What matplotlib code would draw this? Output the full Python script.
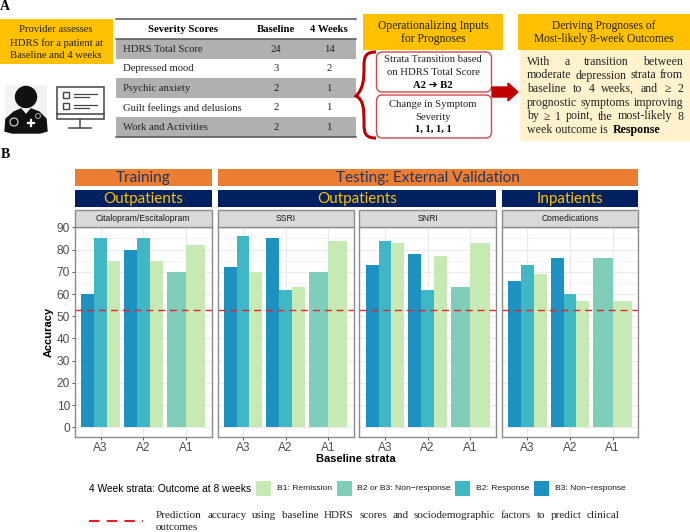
"""Two-part figure: prognosis workflow (A) and accuracy bars by baseline strata (B)."""

import matplotlib

matplotlib.use("Agg")
import matplotlib.pyplot as plt
import numpy as np
from matplotlib.patches import Circle, FancyBboxPatch, PathPatch, Polygon, Rectangle
from matplotlib.path import Path

W, H = 690, 532
SERIF = ["Liberation Serif", "DejaVu Serif", "DejaVu Sans"]
SANS = "Liberation Sans"

# chart data
panels = ["Citalopram/Escitalopram", "SSRI", "SNRI", "Comedications"]
strata = ["A3", "A2", "A1"]
b3_nonresponse = [[60, 80], [72, 85], [73, 78], [66, 76]]
b2_response = [[85, 85], [86, 62], [84, 62], [73, 60]]
b1_remission = [[75, 75, 82], [70, 63, 84], [83, 77, 83], [69, 57, 57]]
b2b3_nonresponse = [70, 70, 63, 76]
reference_accuracy = 53
y_ticks = list(range(0, 100, 10))

# table data
table_header = ["Severity Scores", "Baseline", "4 Weeks"]
table_rows = ["HDRS Total Score", "Depressed mood", "Psychic anxiety",
              "Guilt feelings and delusions", "Work and Activities"]
table_baseline = [24, 3, 2, 2, 2]
table_week4 = [14, 2, 1, 1, 1]

legend_labels = ["B1: Remission", "B2 or B3: Non\u2212response", "B2: Response", "B3: Non\u2212response"]

C_B3, C_B2, C_B23, C_B1 = "#1d91c0", "#41b6c4", "#7fcdbb", "#c7e9b4"
GOLD, ORANGE, NAVY, DARKRED = "#ffc000", "#ed7d31", "#002060", "#c00000"

fig = plt.figure(figsize=(W / 100, H / 100), dpi=100)

# overlay in pixel coordinates for everything that is not a plot panel
bg = fig.add_axes([0, 0, 1, 1], zorder=3)
bg.set_xlim(0, W)
bg.set_ylim(H, 0)
bg.axis("off")
bg.patch.set_alpha(0)


def rect(x0, y0, x1, y1, color, **kw):
    bg.add_patch(Rectangle((x0, y0), x1 - x0, y1 - y0, facecolor=color, edgecolor="none", **kw))


def txt(x, y, s, size=8, family=SERIF, ha="center", color="#222222", weight="normal", **kw):
    return bg.text(x, y, s, fontsize=size, family=family, ha=ha, va="center",
                   color=color, weight=weight, **kw)


def justified(x0, x1, y, line, size):
    """Spread the words of a line evenly between x0 and x1."""
    words = line.split()
    r = fig.canvas.get_renderer()
    items = [txt(x0, y, w, size=size, ha="left") for w in words]
    widths = [t.get_window_extent(r).width for t in items]
    gap = (x1 - x0 - sum(widths)) / (len(words) - 1)
    x = x0
    for t, w in zip(items, widths):
        t.set_x(x)
        x += w + gap


# panel letters
txt(5, 6, "A", size=10, weight="bold", color="black")
txt(5, 154, "B", size=10, weight="bold", color="black")

# provider box
rect(0, 19, 113, 64, GOLD)
for y, s in zip([30, 43, 55], ["Provider assesses", "HDRS for a patient at", "Baseline and 4 weeks"]):
    txt(56, y, s, size=7.65)

# doctor icon
rect(5, 85, 47, 133, "#f3f3f3")
bg.add_patch(Circle((26, 97), 10.5, color="#111111"))
bg.add_patch(Polygon([(5, 131), (6, 119), (14, 112), (21, 109), (26, 115), (31, 109), (39, 112),
                      (46, 119), (47, 131), (40, 133), (12, 133)], color="#111111"))
bg.add_patch(Circle((14, 122), 4, facecolor="none", edgecolor="#dddddd", lw=0.8))
bg.add_patch(Circle((38, 116), 2.5, facecolor="none", edgecolor="#999999", lw=0.8))
bg.plot([28, 34], [123, 123], color="white", lw=1.6)
bg.plot([31, 31], [120, 126], color="white", lw=1.6)

# monitor icon
ICON = "#444444"
bg.add_patch(Rectangle((56.5, 86.5), 47, 32, facecolor="white", edgecolor=ICON, lw=1.1))
bg.plot([56.5, 103.5], [114, 114], color=ICON, lw=1.1)
bg.plot([80, 80], [119, 127], color=ICON, lw=1.1)
bg.plot([69, 91], [128, 128], color=ICON, lw=1.1)
for y in [95, 106]:
    bg.add_patch(Rectangle((63, y - 3), 6, 6, facecolor="none", edgecolor=ICON, lw=1))
    bg.plot([74, 97], [y - 1, y - 1], color=ICON, lw=0.9)
    bg.plot([74, 89], [y + 2, y + 2], color=ICON, lw=0.9)

# severity table
for i in [0, 2, 4]:
    rect(116, 39 + i * 19.6, 356, 39 + (i + 1) * 19.6, "#b0b0b0")
bg.plot([116, 356], [19, 19], color="#555555", lw=1.1)
bg.plot([116, 356], [38.5, 38.5], color="#555555", lw=1.1)
bg.plot([116, 356], [137, 137], color="#555555", lw=1.1)
for x, s in zip([183, 276, 329], table_header):
    txt(x, 30, s, size=7.75, weight="bold", color="black")
for i, s in enumerate(table_rows):
    y = 49 + i * 19.6
    txt(123, y, s, size=7.65, ha="left")
    txt(276, y, str(table_baseline[i]), size=7.65)
    txt(329, y, str(table_week4[i]), size=7.65)

# inputs column
rect(363, 14, 503, 50, GOLD)
txt(433, 26, "Operationalizing Inputs", size=8.35)
txt(433, 39, "for Prognoses", size=8.35)
for y0, y1 in [(52, 92), (95, 138)]:
    bg.add_patch(FancyBboxPatch((376.5 + 4, y0 + 4), 115 - 8, y1 - y0 - 8,
                                boxstyle="round,pad=4,rounding_size=6",
                                facecolor="white", edgecolor="#d0484f", lw=1))
txt(433, 60, "Strata Transition based", size=7.7)
txt(433, 72.5, "on HDRS Total Score", size=7.7)
txt(433, 85, "A2 \u2794 B2", size=7.7, weight="bold", color="black")
txt(433, 104.5, "Change in Symptom", size=7.7)
txt(433, 117, "Severity", size=7.7)
txt(433, 129.5, "1, 1, 1, 1", size=7.7, weight="bold", color="black")

# curly brace
brace = [(376, 52), (366, 52), (364, 56), (364, 66), (364, 78), (364, 88), (356, 96),
         (364, 100), (364, 110), (364, 124), (364, 134), (366, 138), (376, 138)]
codes = [Path.MOVETO] + [Path.CURVE4] * 12
bg.add_patch(PathPatch(Path(brace, codes), facecolor="none", edgecolor=DARKRED, lw=2.2))

# arrow
bg.add_patch(Polygon([(492, 87), (508, 87), (508, 83), (518, 92), (508, 101), (508, 97), (492, 97)],
                     color=DARKRED))

# outcome column
rect(518, 14, 690, 50, GOLD)
txt(604, 26, "Deriving Prognoses of", size=8.3)
txt(604, 39, "Most-likely 8-week Outcomes", size=8.3)
rect(520, 50, 690, 141, "#fff2cc")

fig.canvas.draw()
body = ["With a transition between", "moderate depression strata from", "baseline to 4 weeks, and \u2265 2",
        "prognostic symptoms improving", "by \u2265 1 point, the most-likely 8"]
for y, line in zip([62, 75.5, 88.5, 103, 116.5], body):
    justified(527, 683, y, line, 8.6)
t = txt(527, 130, "week outcome is ", size=8.6, ha="left")
end = t.get_window_extent(fig.canvas.get_renderer()).x1
txt(end + 2, 130, "Response", size=8.6, ha="left", weight="bold", color="black")

# group header bars
rect(75, 169, 212, 186, ORANGE)
rect(218, 169, 638, 186, ORANGE)
rect(75, 190, 212, 207, NAVY)
rect(218, 190, 496, 207, NAVY)
rect(502, 190, 638, 207, NAVY)
txt(143, 178, "Training", size=11, family="Lato", color="#1f3864")
txt(428, 178, "Testing: External Validation", size=11, family="Lato", color="#1f3864")
txt(143, 198.5, "Outpatients", size=11, family="Lato", color=GOLD)
txt(357, 198.5, "Outpatients", size=11, family="Lato", color=GOLD)
txt(570, 198.5, "Inpatients", size=11, family="Lato", color=GOLD)

# bar panels
panel_x = [(75, 211.7), (217.5, 353.7), (359.3, 496), (501.7, 638.3)]
top, strip_top, bottom = 226.7, 210, 436.7
x_pos = np.arange(3)
w3, w2 = 0.3, 0.45

for k, (x0, x1) in enumerate(panel_x):
    ax = fig.add_axes([x0 / W, 1 - bottom / H, (x1 - x0) / W, (bottom - top) / H])
    ax.set_xlim(-0.6, 2.6)
    ax.set_ylim(-4.2, 90.3)
    ax.set_axisbelow(True)
    ax.set_yticks(y_ticks)
    ax.set_yticks(np.array(y_ticks[:-1]) + 5, minor=True)
    ax.set_xticks(x_pos)
    ax.set_xticklabels(strata)
    ax.grid(which="major", color="#ebebeb", lw=0.9)
    ax.grid(which="minor", axis="y", color="#f0f0f0", lw=0.5)
    ax.tick_params(which="minor", length=0)
    ax.tick_params(axis="both", which="major", length=2.2, width=0.7, color="#555555",
                   labelcolor="#4d4d4d", labelsize=8.6, pad=1.5)
    for lab in ax.get_xticklabels() + ax.get_yticklabels():
        lab.set_family(SANS)
    if k > 0:
        ax.tick_params(axis="y", left=False, labelleft=False)

    ax.bar(x_pos[:2] - w3, b3_nonresponse[k], w3, color=C_B3)
    ax.bar(x_pos[:2], b2_response[k], w3, color=C_B2)
    ax.bar(x_pos[:2] + w3, b1_remission[k][:2], w3, color=C_B1)
    ax.bar(x_pos[2] - w2 / 2, b2b3_nonresponse[k], w2, color=C_B23)
    ax.bar(x_pos[2] + w2 / 2, b1_remission[k][2], w2, color=C_B1)
    ax.axhline(reference_accuracy, color="#e8222a", lw=1, dashes=(5, 3.5))

    for s in ax.spines.values():
        s.set_color("#8c8c8c")
        s.set_linewidth(1)

    bg.add_patch(Rectangle((x0, strip_top), x1 - x0, top - strip_top, facecolor="#d9d9d9",
                           edgecolor="#8c8c8c", lw=1))
    txt((x0 + x1) / 2, (strip_top + top) / 2 + 0.3, panels[k], size=6.2, family=SANS, color="#1a1a1a")

# axis titles
txt(49, 332, "Accuracy", size=8, family=SANS, weight="bold", color="black", rotation=90)
txt(356, 459, "Baseline strata", size=8, family=SANS, weight="bold", color="black")

# legend
txt(89, 489, "4 Week strata: Outcome at 8 weeks", size=7.35, family=SANS, ha="left", color="black")
for kx, lx, c, s in zip([256, 336.7, 455, 534.3], [277, 357.3, 475.7, 555],
                        [C_B1, C_B23, C_B2, C_B3], legend_labels):
    rect(kx, 481, kx + 15, 496, c)
    txt(lx, 489, s, size=6.1, family=SANS, ha="left", color="#1a1a1a")

# reference line note
bg.plot([89, 143], [520.5, 520.5], color="#ee1c25", lw=1.5, dashes=(5, 3.5))
justified(156, 620, 515, "Prediction accuracy using baseline HDRS scores and sociodemographic factors to predict clinical", 8)
txt(156, 528, "outcomes", size=8, ha="left")

fig.savefig("out.png", dpi=100)
